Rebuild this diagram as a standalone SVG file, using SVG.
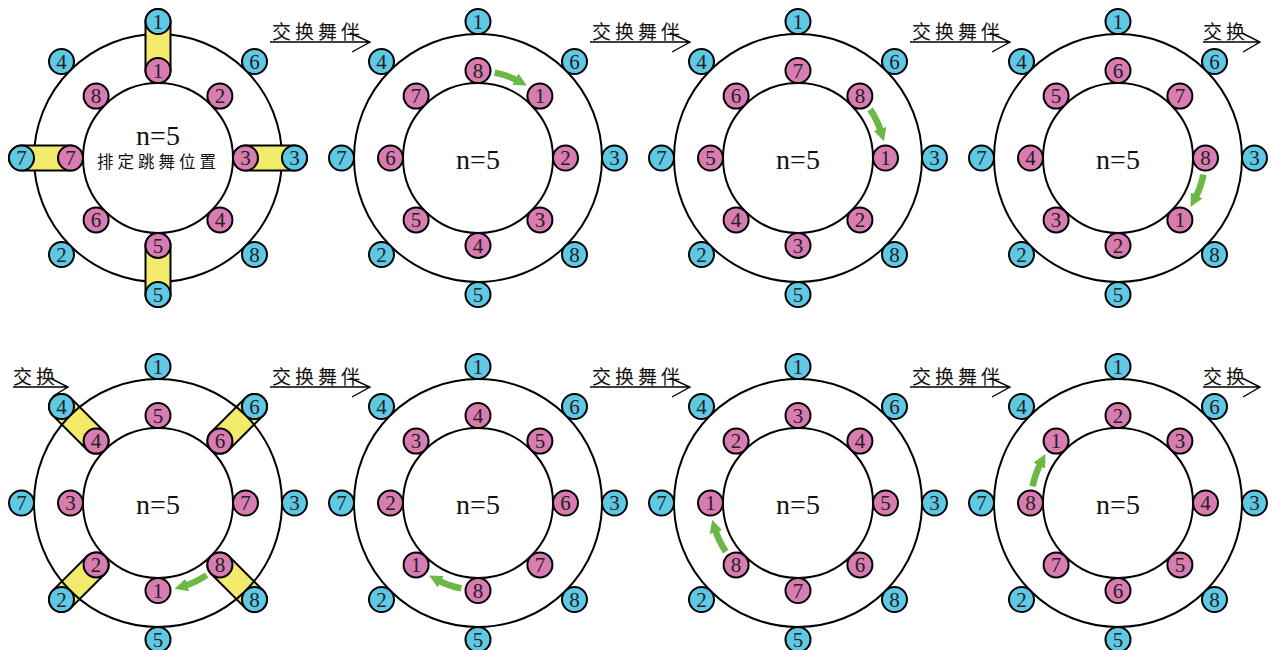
<svg xmlns="http://www.w3.org/2000/svg" width="1275" height="650" viewBox="0 0 1275 650">
<style>
.ring{fill:none;stroke:#000;stroke-width:2}
.b circle{fill:#5ec8e5;stroke:#000;stroke-width:2}
.p circle{fill:#d87cb2;stroke:#000;stroke-width:2}
.num{font-family:"Liberation Serif",serif;font-size:21px;text-anchor:middle;fill:#222}
.n5{font-family:"Liberation Serif",serif;font-size:28px;text-anchor:middle;fill:#111}
.cjk{font-family:"Noto Sans CJK SC",sans-serif;font-size:19px;letter-spacing:4px;fill:#111}
.capo{stroke:#000;stroke-width:27;stroke-linecap:round}
.capi{stroke:#f1ea6b;stroke-width:23;stroke-linecap:round}
.ga{fill:none;stroke:#6cb845;stroke-width:6.5;marker-end:url(#gh)}
.la{fill:none;stroke:#000;stroke-width:1.4}
</style>
<defs>
<marker id="gh" viewBox="0 0 10 10" refX="3" refY="5" markerWidth="13" markerHeight="13" markerUnits="userSpaceOnUse" orient="auto"><path d="M0,0 L10,5 L0,10 z" fill="#6cb845"/></marker>
</defs>
<rect width="1275" height="650" fill="#fff"/>
<g id="rings">
<g transform="translate(158,158)"><circle class="ring" r="124"/><circle class="ring" r="75"/></g>
<g transform="translate(478,158)"><circle class="ring" r="124"/><circle class="ring" r="75"/></g>
<g transform="translate(798,158)"><circle class="ring" r="124"/><circle class="ring" r="75"/></g>
<g transform="translate(1118,158)"><circle class="ring" r="124"/><circle class="ring" r="75"/></g>
<g transform="translate(158,503)"><circle class="ring" r="75"/></g>
<g transform="translate(478,503)"><circle class="ring" r="124"/><circle class="ring" r="75"/></g>
<g transform="translate(798,503)"><circle class="ring" r="124"/><circle class="ring" r="75"/></g>
<g transform="translate(1118,503)"><circle class="ring" r="124"/><circle class="ring" r="75"/></g>
</g>
<g id="connectors">
<g id="caps1" transform="translate(158,158)">
<path class="capo" d="M0,-87.5 V-136.5 M87.5,0 H136.5 M0,87.5 V136.5 M-87.5,0 H-136.5"/>
<path class="capi" d="M0,-87.5 V-136.5 M87.5,0 H136.5 M0,87.5 V136.5 M-87.5,0 H-136.5"/>
</g>
<g id="caps5" transform="translate(158,503)">
<path class="capo" d="M61.9,-61.9 L96.5,-96.5 M61.9,61.9 L96.5,96.5 M-61.9,61.9 L-96.5,96.5 M-61.9,-61.9 L-96.5,-96.5"/>
<path class="capi" d="M61.9,-61.9 L96.5,-96.5 M61.9,61.9 L96.5,96.5 M-61.9,61.9 L-96.5,96.5 M-61.9,-61.9 L-96.5,-96.5"/>
</g>
<path class="ga" transform="translate(478,158)" d="M16.6,-85.4 A87,87 0 0 1 40.84,-76.82"/>
<path class="ga" transform="translate(798,158)" d="M72.13,-48.65 A87,87 0 0 1 83.2,-25.44"/>
<path class="ga" transform="translate(1118,158)" d="M85.4,16.6 A87,87 0 0 1 76.82,40.84"/>
<path class="ga" transform="translate(158,503)" d="M48.65,72.13 A87,87 0 0 1 25.44,83.2"/>
<path class="ga" transform="translate(478,503)" d="M-16.6,85.4 A87,87 0 0 1 -40.84,76.82"/>
<path class="ga" transform="translate(798,503)" d="M-72.13,48.65 A87,87 0 0 1 -83.2,25.44"/>
<path class="ga" transform="translate(1118,503)" d="M-85.4,-16.6 A87,87 0 0 1 -76.82,-40.84"/>
<path class="la" d="M270,42 H370 M350,33 L370,42 L352,52"/>
<path class="la" d="M590,42 H690 M670,33 L690,42 L672,52"/>
<path class="la" d="M910,42 H1010 M990,33 L1010,42 L992,52"/>
<path class="la" d="M1203,42 H1260 M1242,33 L1260,42 L1243,52"/>
<path class="la" d="M13,387 H68 M50,378 L68,387 L53,396"/>
<path class="la" d="M270,387 H370 M350,378 L370,387 L352,397"/>
<path class="la" d="M590,387 H690 M670,378 L690,387 L672,397"/>
<path class="la" d="M910,387 H1010 M990,378 L1010,387 L992,397"/>
<path class="la" d="M1203,387 H1260 M1242,378 L1260,387 L1243,397"/>
</g>
<g id="ring-overlay" transform="translate(158,503)"><circle class="ring" r="124"/></g>
<g id="nodes">
<g id="panel1" transform="translate(158,158)">
<g id="n1-b1" class="b" transform="translate(0,-136.5)"><circle r="12.5"/><text class="num" y="7">1</text></g>
<g id="n1-b6" class="b" transform="translate(96.5,-96.5)"><circle r="12.5"/><text class="num" y="7">6</text></g>
<g id="n1-b3" class="b" transform="translate(136.5,0)"><circle r="12.5"/><text class="num" y="7">3</text></g>
<g id="n1-b8" class="b" transform="translate(96.5,96.5)"><circle r="12.5"/><text class="num" y="7">8</text></g>
<g id="n1-b5" class="b" transform="translate(0,136.5)"><circle r="12.5"/><text class="num" y="7">5</text></g>
<g id="n1-b2" class="b" transform="translate(-96.5,96.5)"><circle r="12.5"/><text class="num" y="7">2</text></g>
<g id="n1-b7" class="b" transform="translate(-136.5,0)"><circle r="12.5"/><text class="num" y="7">7</text></g>
<g id="n1-b4" class="b" transform="translate(-96.5,-96.5)"><circle r="12.5"/><text class="num" y="7">4</text></g>
<g id="n1-p1" class="p" transform="translate(0,-87.5)"><circle r="12.5"/><text class="num" y="7">1</text></g>
<g id="n1-p2" class="p" transform="translate(61.9,-61.9)"><circle r="12.5"/><text class="num" y="7">2</text></g>
<g id="n1-p3" class="p" transform="translate(87.5,0)"><circle r="12.5"/><text class="num" y="7">3</text></g>
<g id="n1-p4" class="p" transform="translate(61.9,61.9)"><circle r="12.5"/><text class="num" y="7">4</text></g>
<g id="n1-p5" class="p" transform="translate(0,87.5)"><circle r="12.5"/><text class="num" y="7">5</text></g>
<g id="n1-p6" class="p" transform="translate(-61.9,61.9)"><circle r="12.5"/><text class="num" y="7">6</text></g>
<g id="n1-p7" class="p" transform="translate(-87.5,0)"><circle r="12.5"/><text class="num" y="7">7</text></g>
<g id="n1-p8" class="p" transform="translate(-61.9,-61.9)"><circle r="12.5"/><text class="num" y="7">8</text></g>
</g>
<g id="panel2" transform="translate(478,158)">
<g id="n2-b1" class="b" transform="translate(0,-136.5)"><circle r="12.5"/><text class="num" y="7">1</text></g>
<g id="n2-b6" class="b" transform="translate(96.5,-96.5)"><circle r="12.5"/><text class="num" y="7">6</text></g>
<g id="n2-b3" class="b" transform="translate(136.5,0)"><circle r="12.5"/><text class="num" y="7">3</text></g>
<g id="n2-b8" class="b" transform="translate(96.5,96.5)"><circle r="12.5"/><text class="num" y="7">8</text></g>
<g id="n2-b5" class="b" transform="translate(0,136.5)"><circle r="12.5"/><text class="num" y="7">5</text></g>
<g id="n2-b2" class="b" transform="translate(-96.5,96.5)"><circle r="12.5"/><text class="num" y="7">2</text></g>
<g id="n2-b7" class="b" transform="translate(-136.5,0)"><circle r="12.5"/><text class="num" y="7">7</text></g>
<g id="n2-b4" class="b" transform="translate(-96.5,-96.5)"><circle r="12.5"/><text class="num" y="7">4</text></g>
<g id="n2-p8" class="p" transform="translate(0,-87.5)"><circle r="12.5"/><text class="num" y="7">8</text></g>
<g id="n2-p1" class="p" transform="translate(61.9,-61.9)"><circle r="12.5"/><text class="num" y="7">1</text></g>
<g id="n2-p2" class="p" transform="translate(87.5,0)"><circle r="12.5"/><text class="num" y="7">2</text></g>
<g id="n2-p3" class="p" transform="translate(61.9,61.9)"><circle r="12.5"/><text class="num" y="7">3</text></g>
<g id="n2-p4" class="p" transform="translate(0,87.5)"><circle r="12.5"/><text class="num" y="7">4</text></g>
<g id="n2-p5" class="p" transform="translate(-61.9,61.9)"><circle r="12.5"/><text class="num" y="7">5</text></g>
<g id="n2-p6" class="p" transform="translate(-87.5,0)"><circle r="12.5"/><text class="num" y="7">6</text></g>
<g id="n2-p7" class="p" transform="translate(-61.9,-61.9)"><circle r="12.5"/><text class="num" y="7">7</text></g>
</g>
<g id="panel3" transform="translate(798,158)">
<g id="n3-b1" class="b" transform="translate(0,-136.5)"><circle r="12.5"/><text class="num" y="7">1</text></g>
<g id="n3-b6" class="b" transform="translate(96.5,-96.5)"><circle r="12.5"/><text class="num" y="7">6</text></g>
<g id="n3-b3" class="b" transform="translate(136.5,0)"><circle r="12.5"/><text class="num" y="7">3</text></g>
<g id="n3-b8" class="b" transform="translate(96.5,96.5)"><circle r="12.5"/><text class="num" y="7">8</text></g>
<g id="n3-b5" class="b" transform="translate(0,136.5)"><circle r="12.5"/><text class="num" y="7">5</text></g>
<g id="n3-b2" class="b" transform="translate(-96.5,96.5)"><circle r="12.5"/><text class="num" y="7">2</text></g>
<g id="n3-b7" class="b" transform="translate(-136.5,0)"><circle r="12.5"/><text class="num" y="7">7</text></g>
<g id="n3-b4" class="b" transform="translate(-96.5,-96.5)"><circle r="12.5"/><text class="num" y="7">4</text></g>
<g id="n3-p7" class="p" transform="translate(0,-87.5)"><circle r="12.5"/><text class="num" y="7">7</text></g>
<g id="n3-p8" class="p" transform="translate(61.9,-61.9)"><circle r="12.5"/><text class="num" y="7">8</text></g>
<g id="n3-p1" class="p" transform="translate(87.5,0)"><circle r="12.5"/><text class="num" y="7">1</text></g>
<g id="n3-p2" class="p" transform="translate(61.9,61.9)"><circle r="12.5"/><text class="num" y="7">2</text></g>
<g id="n3-p3" class="p" transform="translate(0,87.5)"><circle r="12.5"/><text class="num" y="7">3</text></g>
<g id="n3-p4" class="p" transform="translate(-61.9,61.9)"><circle r="12.5"/><text class="num" y="7">4</text></g>
<g id="n3-p5" class="p" transform="translate(-87.5,0)"><circle r="12.5"/><text class="num" y="7">5</text></g>
<g id="n3-p6" class="p" transform="translate(-61.9,-61.9)"><circle r="12.5"/><text class="num" y="7">6</text></g>
</g>
<g id="panel4" transform="translate(1118,158)">
<g id="n4-b1" class="b" transform="translate(0,-136.5)"><circle r="12.5"/><text class="num" y="7">1</text></g>
<g id="n4-b6" class="b" transform="translate(96.5,-96.5)"><circle r="12.5"/><text class="num" y="7">6</text></g>
<g id="n4-b3" class="b" transform="translate(136.5,0)"><circle r="12.5"/><text class="num" y="7">3</text></g>
<g id="n4-b8" class="b" transform="translate(96.5,96.5)"><circle r="12.5"/><text class="num" y="7">8</text></g>
<g id="n4-b5" class="b" transform="translate(0,136.5)"><circle r="12.5"/><text class="num" y="7">5</text></g>
<g id="n4-b2" class="b" transform="translate(-96.5,96.5)"><circle r="12.5"/><text class="num" y="7">2</text></g>
<g id="n4-b7" class="b" transform="translate(-136.5,0)"><circle r="12.5"/><text class="num" y="7">7</text></g>
<g id="n4-b4" class="b" transform="translate(-96.5,-96.5)"><circle r="12.5"/><text class="num" y="7">4</text></g>
<g id="n4-p6" class="p" transform="translate(0,-87.5)"><circle r="12.5"/><text class="num" y="7">6</text></g>
<g id="n4-p7" class="p" transform="translate(61.9,-61.9)"><circle r="12.5"/><text class="num" y="7">7</text></g>
<g id="n4-p8" class="p" transform="translate(87.5,0)"><circle r="12.5"/><text class="num" y="7">8</text></g>
<g id="n4-p1" class="p" transform="translate(61.9,61.9)"><circle r="12.5"/><text class="num" y="7">1</text></g>
<g id="n4-p2" class="p" transform="translate(0,87.5)"><circle r="12.5"/><text class="num" y="7">2</text></g>
<g id="n4-p3" class="p" transform="translate(-61.9,61.9)"><circle r="12.5"/><text class="num" y="7">3</text></g>
<g id="n4-p4" class="p" transform="translate(-87.5,0)"><circle r="12.5"/><text class="num" y="7">4</text></g>
<g id="n4-p5" class="p" transform="translate(-61.9,-61.9)"><circle r="12.5"/><text class="num" y="7">5</text></g>
</g>
<g id="panel5" transform="translate(158,503)">
<g id="n5-b1" class="b" transform="translate(0,-136.5)"><circle r="12.5"/><text class="num" y="7">1</text></g>
<g id="n5-b6" class="b" transform="translate(96.5,-96.5)"><circle r="12.5"/><text class="num" y="7">6</text></g>
<g id="n5-b3" class="b" transform="translate(136.5,0)"><circle r="12.5"/><text class="num" y="7">3</text></g>
<g id="n5-b8" class="b" transform="translate(96.5,96.5)"><circle r="12.5"/><text class="num" y="7">8</text></g>
<g id="n5-b5" class="b" transform="translate(0,136.5)"><circle r="12.5"/><text class="num" y="7">5</text></g>
<g id="n5-b2" class="b" transform="translate(-96.5,96.5)"><circle r="12.5"/><text class="num" y="7">2</text></g>
<g id="n5-b7" class="b" transform="translate(-136.5,0)"><circle r="12.5"/><text class="num" y="7">7</text></g>
<g id="n5-b4" class="b" transform="translate(-96.5,-96.5)"><circle r="12.5"/><text class="num" y="7">4</text></g>
<g id="n5-p5" class="p" transform="translate(0,-87.5)"><circle r="12.5"/><text class="num" y="7">5</text></g>
<g id="n5-p6" class="p" transform="translate(61.9,-61.9)"><circle r="12.5"/><text class="num" y="7">6</text></g>
<g id="n5-p7" class="p" transform="translate(87.5,0)"><circle r="12.5"/><text class="num" y="7">7</text></g>
<g id="n5-p8" class="p" transform="translate(61.9,61.9)"><circle r="12.5"/><text class="num" y="7">8</text></g>
<g id="n5-p1" class="p" transform="translate(0,87.5)"><circle r="12.5"/><text class="num" y="7">1</text></g>
<g id="n5-p2" class="p" transform="translate(-61.9,61.9)"><circle r="12.5"/><text class="num" y="7">2</text></g>
<g id="n5-p3" class="p" transform="translate(-87.5,0)"><circle r="12.5"/><text class="num" y="7">3</text></g>
<g id="n5-p4" class="p" transform="translate(-61.9,-61.9)"><circle r="12.5"/><text class="num" y="7">4</text></g>
</g>
<g id="panel6" transform="translate(478,503)">
<g id="n6-b1" class="b" transform="translate(0,-136.5)"><circle r="12.5"/><text class="num" y="7">1</text></g>
<g id="n6-b6" class="b" transform="translate(96.5,-96.5)"><circle r="12.5"/><text class="num" y="7">6</text></g>
<g id="n6-b3" class="b" transform="translate(136.5,0)"><circle r="12.5"/><text class="num" y="7">3</text></g>
<g id="n6-b8" class="b" transform="translate(96.5,96.5)"><circle r="12.5"/><text class="num" y="7">8</text></g>
<g id="n6-b5" class="b" transform="translate(0,136.5)"><circle r="12.5"/><text class="num" y="7">5</text></g>
<g id="n6-b2" class="b" transform="translate(-96.5,96.5)"><circle r="12.5"/><text class="num" y="7">2</text></g>
<g id="n6-b7" class="b" transform="translate(-136.5,0)"><circle r="12.5"/><text class="num" y="7">7</text></g>
<g id="n6-b4" class="b" transform="translate(-96.5,-96.5)"><circle r="12.5"/><text class="num" y="7">4</text></g>
<g id="n6-p4" class="p" transform="translate(0,-87.5)"><circle r="12.5"/><text class="num" y="7">4</text></g>
<g id="n6-p5" class="p" transform="translate(61.9,-61.9)"><circle r="12.5"/><text class="num" y="7">5</text></g>
<g id="n6-p6" class="p" transform="translate(87.5,0)"><circle r="12.5"/><text class="num" y="7">6</text></g>
<g id="n6-p7" class="p" transform="translate(61.9,61.9)"><circle r="12.5"/><text class="num" y="7">7</text></g>
<g id="n6-p8" class="p" transform="translate(0,87.5)"><circle r="12.5"/><text class="num" y="7">8</text></g>
<g id="n6-p1" class="p" transform="translate(-61.9,61.9)"><circle r="12.5"/><text class="num" y="7">1</text></g>
<g id="n6-p2" class="p" transform="translate(-87.5,0)"><circle r="12.5"/><text class="num" y="7">2</text></g>
<g id="n6-p3" class="p" transform="translate(-61.9,-61.9)"><circle r="12.5"/><text class="num" y="7">3</text></g>
</g>
<g id="panel7" transform="translate(798,503)">
<g id="n7-b1" class="b" transform="translate(0,-136.5)"><circle r="12.5"/><text class="num" y="7">1</text></g>
<g id="n7-b6" class="b" transform="translate(96.5,-96.5)"><circle r="12.5"/><text class="num" y="7">6</text></g>
<g id="n7-b3" class="b" transform="translate(136.5,0)"><circle r="12.5"/><text class="num" y="7">3</text></g>
<g id="n7-b8" class="b" transform="translate(96.5,96.5)"><circle r="12.5"/><text class="num" y="7">8</text></g>
<g id="n7-b5" class="b" transform="translate(0,136.5)"><circle r="12.5"/><text class="num" y="7">5</text></g>
<g id="n7-b2" class="b" transform="translate(-96.5,96.5)"><circle r="12.5"/><text class="num" y="7">2</text></g>
<g id="n7-b7" class="b" transform="translate(-136.5,0)"><circle r="12.5"/><text class="num" y="7">7</text></g>
<g id="n7-b4" class="b" transform="translate(-96.5,-96.5)"><circle r="12.5"/><text class="num" y="7">4</text></g>
<g id="n7-p3" class="p" transform="translate(0,-87.5)"><circle r="12.5"/><text class="num" y="7">3</text></g>
<g id="n7-p4" class="p" transform="translate(61.9,-61.9)"><circle r="12.5"/><text class="num" y="7">4</text></g>
<g id="n7-p5" class="p" transform="translate(87.5,0)"><circle r="12.5"/><text class="num" y="7">5</text></g>
<g id="n7-p6" class="p" transform="translate(61.9,61.9)"><circle r="12.5"/><text class="num" y="7">6</text></g>
<g id="n7-p7" class="p" transform="translate(0,87.5)"><circle r="12.5"/><text class="num" y="7">7</text></g>
<g id="n7-p8" class="p" transform="translate(-61.9,61.9)"><circle r="12.5"/><text class="num" y="7">8</text></g>
<g id="n7-p1" class="p" transform="translate(-87.5,0)"><circle r="12.5"/><text class="num" y="7">1</text></g>
<g id="n7-p2" class="p" transform="translate(-61.9,-61.9)"><circle r="12.5"/><text class="num" y="7">2</text></g>
</g>
<g id="panel8" transform="translate(1118,503)">
<g id="n8-b1" class="b" transform="translate(0,-136.5)"><circle r="12.5"/><text class="num" y="7">1</text></g>
<g id="n8-b6" class="b" transform="translate(96.5,-96.5)"><circle r="12.5"/><text class="num" y="7">6</text></g>
<g id="n8-b3" class="b" transform="translate(136.5,0)"><circle r="12.5"/><text class="num" y="7">3</text></g>
<g id="n8-b8" class="b" transform="translate(96.5,96.5)"><circle r="12.5"/><text class="num" y="7">8</text></g>
<g id="n8-b5" class="b" transform="translate(0,136.5)"><circle r="12.5"/><text class="num" y="7">5</text></g>
<g id="n8-b2" class="b" transform="translate(-96.5,96.5)"><circle r="12.5"/><text class="num" y="7">2</text></g>
<g id="n8-b7" class="b" transform="translate(-136.5,0)"><circle r="12.5"/><text class="num" y="7">7</text></g>
<g id="n8-b4" class="b" transform="translate(-96.5,-96.5)"><circle r="12.5"/><text class="num" y="7">4</text></g>
<g id="n8-p2" class="p" transform="translate(0,-87.5)"><circle r="12.5"/><text class="num" y="7">2</text></g>
<g id="n8-p3" class="p" transform="translate(61.9,-61.9)"><circle r="12.5"/><text class="num" y="7">3</text></g>
<g id="n8-p4" class="p" transform="translate(87.5,0)"><circle r="12.5"/><text class="num" y="7">4</text></g>
<g id="n8-p5" class="p" transform="translate(61.9,61.9)"><circle r="12.5"/><text class="num" y="7">5</text></g>
<g id="n8-p6" class="p" transform="translate(0,87.5)"><circle r="12.5"/><text class="num" y="7">6</text></g>
<g id="n8-p7" class="p" transform="translate(-61.9,61.9)"><circle r="12.5"/><text class="num" y="7">7</text></g>
<g id="n8-p8" class="p" transform="translate(-87.5,0)"><circle r="12.5"/><text class="num" y="7">8</text></g>
<g id="n8-p1" class="p" transform="translate(-61.9,-61.9)"><circle r="12.5"/><text class="num" y="7">1</text></g>
</g>
</g>
<g id="labels">
<text class="n5" x="158" y="145">n=5</text>
<text class="cjk" x="97" y="168" style="font-size:16.5px;letter-spacing:4px">排定跳舞位置</text>
<text class="n5" x="478" y="169">n=5</text>
<text class="n5" x="798" y="169">n=5</text>
<text class="n5" x="1118" y="169">n=5</text>
<text class="n5" x="158" y="514">n=5</text>
<text class="n5" x="478" y="514">n=5</text>
<text class="n5" x="798" y="514">n=5</text>
<text class="n5" x="1118" y="514">n=5</text>
<text class="cjk" x="272" y="38.5">交换舞伴</text>
<text class="cjk" x="592" y="38.5">交换舞伴</text>
<text class="cjk" x="912" y="38.5">交换舞伴</text>
<text class="cjk" x="1203" y="38.5">交换</text>
<text class="cjk" x="13" y="383.5">交换</text>
<text class="cjk" x="272" y="383.5">交换舞伴</text>
<text class="cjk" x="592" y="383.5">交换舞伴</text>
<text class="cjk" x="912" y="383.5">交换舞伴</text>
<text class="cjk" x="1203" y="383.5">交换</text>
</g>
</svg>
